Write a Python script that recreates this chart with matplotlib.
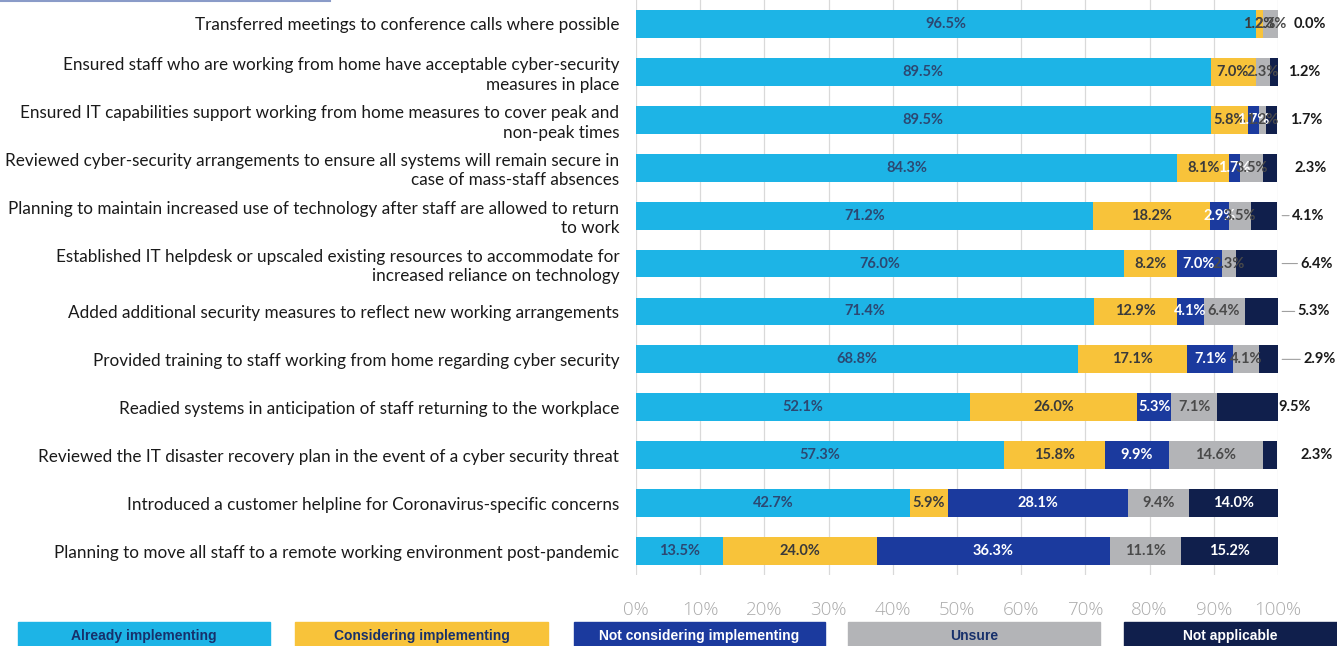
import matplotlib
matplotlib.use("Agg")
import matplotlib.pyplot as plt
from matplotlib.patches import Rectangle
import numpy as np

categories = [
    "Transferred meetings to conference calls where possible",
    "Ensured staff who are working from home have acceptable cyber-security\nmeasures in place",
    "Ensured IT capabilities support working from home measures to cover peak and\nnon-peak times",
    "Reviewed cyber-security arrangements to ensure all systems will remain secure in\ncase of mass-staff absences",
    "Planning to maintain increased use of technology after staff are allowed to return\nto work",
    "Established IT helpdesk or upscaled existing resources to accommodate for\nincreased reliance on technology",
    "Added additional security measures to reflect new working arrangements",
    "Provided training to staff working from home regarding cyber security",
    "Readied systems in anticipation of staff returning to the workplace",
    "Reviewed the IT disaster recovery plan in the event of a cyber security threat",
    "Introduced a customer helpline for Coronavirus-specific concerns",
    "Planning to move all staff to a remote working environment post-pandemic",
]
already = [96.5, 89.5, 89.5, 84.3, 71.2, 76.0, 71.4, 68.8, 52.1, 57.3, 42.7, 13.5]
considering = [1.2, 7.0, 5.8, 8.1, 18.2, 8.2, 12.9, 17.1, 26.0, 15.8, 5.9, 24.0]
not_considering = [0.0, 0.0, 1.7, 1.7, 2.9, 7.0, 4.1, 7.1, 5.3, 9.9, 28.1, 36.3]
unsure = [2.3, 2.3, 1.2, 3.5, 3.5, 2.3, 6.4, 4.1, 7.1, 14.6, 9.4, 11.1]
not_applicable = [0.0, 1.2, 1.7, 2.3, 4.1, 6.4, 5.3, 2.9, 9.5, 2.3, 14.0, 15.2]
series_names = ["Already implementing", "Considering implementing",
                "Not considering implementing", "Unsure", "Not applicable"]
tick_values = [0, 10, 20, 30, 40, 50, 60, 70, 80, 90, 100]

series = [already, considering, not_considering, unsure, not_applicable]
colors = ["#1DB4E6", "#F8C33A", "#1B3A9E", "#B3B4B7", "#101F4C"]
label_colors = ["#2C4872", "#3A3A3A", "white", "#4A4A4A", "white"]
legend_text_colors = ["#17306B", "#17306B", "white", "#17306B", "white"]

W, H = 1337, 646
fig = plt.figure(figsize=(W / 100, H / 100), dpi=100)
ax = fig.add_axes([636 / W, 1 - 575 / H, (1278 - 636) / W, 575 / H])

y = np.arange(len(categories))
left = np.zeros(len(categories))
bar_h = 0.58
containers = []
for vals, c in zip(series, colors):
    bc = ax.barh(y, vals, left=left, height=bar_h, color=c, zorder=2)
    containers.append(bc)
    left += np.array(vals)

lab_font = dict(family="Lato", weight="bold", size=10.5)
# labels inside segments (first four series)
for i in range(4):
    vals = series[i]
    labels = [f"{v:.1f}%" if v > 0 else "" for v in vals]
    ax.bar_label(containers[i], labels=labels, label_type="center",
                 color=label_colors[i], **lab_font)

# Not applicable: inside for large, outside otherwise
inside = [f"{v:.1f}%" if v >= 12 else "" for v in not_applicable]
ax.bar_label(containers[4], labels=inside, label_type="center", color="white", **lab_font)
na_offsets = [11, 7, 9, 12, 10, 16, 14, 18, 0, 16]
for j, v in enumerate(not_applicable):
    if v < 12:
        off = na_offsets[j]
        ax.annotate(f"{v:.1f}%", xy=(100, j), xytext=(off, 0), textcoords="offset points",
                    ha="left", va="center", color="#1A1A1A", annotation_clip=False,
                    **lab_font)
        if 4 <= j <= 7:
            ax.annotate("", xy=(100, j), xytext=(off - 2, 0), textcoords="offset points",
                        arrowprops=dict(arrowstyle="-", color="#A0A0A0", lw=0.8,
                                        shrinkA=0, shrinkB=3),
                        annotation_clip=False)

ax.set_xlim(0, 100)
ax.set_ylim(len(categories) - 0.5, -0.5)
ax.set_xticks(tick_values)
ax.set_xticklabels([f"{t}%" for t in tick_values], fontfamily="Open Sans",
                   fontweight="light", fontsize=13.5, color="#ABABAB")
ax.tick_params(axis="x", length=0, pad=19)
ax.set_yticks(y)
ax.set_yticklabels(categories, fontfamily="Lato", fontsize=12.3, color="#1A1A1A",
                   multialignment="right", linespacing=1.25)
ax.tick_params(axis="y", length=0, pad=12)
ax.grid(axis="x", color="#D9D9D9", lw=0.9, zorder=0)
ax.set_axisbelow(True)
for s in ax.spines.values():
    s.set_visible(False)

# legend boxes
boxes = [(18, 270), (295, 548), (574, 825), (848, 1100), (1124, 1337)]
for (x0, x1), name, c, tc in zip(boxes, series_names, colors, legend_text_colors):
    fig.patches.append(Rectangle((x0 / W, 0), (x1 - x0) / W, 24 / H,
                                 transform=fig.transFigure, color=c, zorder=1))
    fig.text((x0 + x1) / 2 / W, 10 / H, name, ha="center", va="center",
             family="Liberation Sans", weight="bold", size=10, color=tc)

# thin line at top-left
fig.add_artist(plt.Line2D([0, 330 / W], [1 - 1 / H, 1 - 1 / H], transform=fig.transFigure,
                          color="#8A9BC8", lw=1.5))

fig.savefig("out.png", dpi=100)
